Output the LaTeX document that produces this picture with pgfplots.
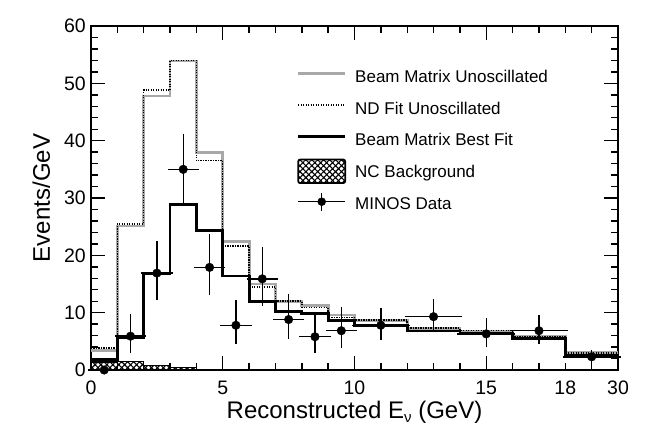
\documentclass[border=0pt]{standalone}
\usepackage{fontspec}
\setmainfont{Liberation Sans}
\usepackage{pgfplots}
\usepackage{pgfplotstable}
\pgfplotsset{compat=1.18}
\usetikzlibrary{patterns.meta}
\definecolor{unosc}{RGB}{168,168,168}
% fixed-size box for legend images, drawn parts may stick out of it
\newcommand{\legbox}{\pgfpathrectangle{\pgfpointorigin}{\pgfpoint{47bp}{8bp}}\pgfusepath{use as bounding box}}

% x in display units: 0-18 GeV linear, the 18-30 GeV bin squeezed into 18-20
\pgfplotstableread{
x   gray  nd    fit   nc
0   3.4   3.8   1.9   1.4
1   25.1  25.5  5.6   1.5
2   47.8  48.8  16.8  0.8
3   53.9  54.0  28.9  0.4
4   37.9  36.5  24.4  0.15
5   22.4  21.6  16.4  0.1
6   15.0  14.5  12.0  0.1
7   12.0  12.0  10.2  0.05
8   11.2  10.9  9.9   0.05
9   9.6   9.2   8.6   0.05
10  8.7   8.7   7.8   0.05
12  7.3   7.3   6.8   0.05
14  6.7   6.9   6.3   0.05
16  5.9   5.8   5.5   0.05
18  3.1   3.0   2.6   0.05
20  3.1   3.0   2.6   0.05
}\histos

\pgfplotstableread{
x    y     ex   ep    em
0.5  0.0   0.5  0     0
1.5  5.9   0.5  3.5   2.5
2.5  16.9  0.5  5.2   4.2
3.5  35.0  0.5  5.8   6.0
4.5  17.9  0.5  5.3   4.4
5.5  7.8   0.5  3.9   2.9
6.5  15.9  0.5  5.1   4.3
7.5  8.8   0.5  4.1   3.0
8.5  5.8   0.5  3.6   2.4
9.5  6.85  0.5  3.75  2.65
11   7.8   1    2.5   2.1
13   9.3   1    2.6   2.3
15   6.3   1    2.3   1.9
17   6.85  1    2.35  1.85
19   2.3   1    0.8   0.6
}\minos

\begin{document}
\begin{tikzpicture}
\begin{axis}[
  name=ax,
  scale only axis,
  width=527bp, height=344bp,
  xmin=0, xmax=20, ymin=0, ymax=60,
  clip=false,
  axis line style={line width=2bp},
  tick align=inside,
  tick style={black, line width=1.4bp},
  major tick length=14bp, minor tick length=7bp,
  xtick={0,5,10,15},
  minor xtick={1,...,19},
  extra x ticks={18,20},
  extra x tick labels={18,30},
  extra x tick style={major tick length=7bp},
  ytick={0,10,...,60},
  minor y tick num=4,
  /pgf/number format/assume math mode=true,
  ticklabel style={font=\fontsize{19.5bp}{23bp}\selectfont},
  xticklabel style={inner sep=0pt, yshift=-11bp},
  yticklabel style={inner sep=0pt, xshift=-5bp},
  label style={font=\fontsize{24bp}{28bp}\selectfont},
  xlabel={Reconstructed E\raisebox{-0.35ex}{\fontsize{15bp}{15bp}\selectfont ν} (GeV)},
  xlabel style={at={(axis description cs:0.5,-0.1410)}, anchor=base},
  ylabel={Events/GeV},
  ylabel style={at={(axis description cs:-0.0778,0.5)}, anchor=base},
  legend cell align=left,
  legend style={at={(axis description cs:0.3928,0.872)}, anchor=north west,
    draw=none, fill=none, inner sep=0pt, row sep=15.5bp, column sep=10bp,
    font=\fontsize{17bp}{20bp}\selectfont,
    nodes={inner sep=0pt, text height=12.5bp, text depth=3.6bp}},
]
\addplot[const plot mark left, draw=black, line width=1.2bp,
  pattern={Hatch[angle=45, distance=4.2bp, line width=1.1bp]}, forget plot]
  table[x=x, y=nc]{\histos} \closedcycle;
\addplot[const plot mark left, unosc, line width=2.8bp, forget plot]
  table[x=x, y=gray]{\histos};
\addplot[const plot mark left, black, line width=1.5bp, dash pattern=on 1.2bp off 1.3bp, forget plot]
  table[x=x, y=nd]{\histos};
\addplot[const plot mark left, black, line width=2.8bp, forget plot]
  table[x=x, y=fit]{\histos};
\addplot[only marks, mark=*, mark size=4.3bp, black, forget plot,
  error bars/.cd, x dir=both, x explicit, y dir=both, y explicit,
  error bar style={line width=1.4bp},
  error mark=-, error mark options={mark size=2.5bp, line width=1.4bp}]
  table[x=x, y=y, x error=ex, y error plus=ep, y error minus=em]{\minos};

\addlegendimage{legend image code/.code={\legbox \draw[overlay, unosc, line width=2.7bp] (0bp,4.7bp) -- (47bp,4.7bp);}}
\addlegendentry{Beam Matrix Unoscillated}
\addlegendimage{legend image code/.code={\legbox \draw[overlay, black, line width=1.5bp, dash pattern=on 1.2bp off 1.3bp] (0bp,4.7bp) -- (47bp,4.7bp);}}
\addlegendentry{ND Fit Unoscillated}
\addlegendimage{legend image code/.code={\legbox \draw[overlay, black, line width=2.7bp] (0bp,4.7bp) -- (47bp,4.7bp);}}
\addlegendentry{Beam Matrix Best Fit}
\addlegendimage{legend image code/.code={\legbox \draw[overlay, black, line width=1.8bp, rounded corners=2bp, pattern={Hatch[angle=45, distance=4.2bp, line width=1.1bp]}] (0bp,-10bp) rectangle (47bp,13.5bp);}}
\addlegendentry{NC Background}
\addlegendimage{legend image code/.code={\legbox \draw[overlay, black, line width=1.4bp] (0bp,3bp) -- (47bp,3bp); \draw[overlay, black, line width=1.4bp] (23.5bp,-6bp) -- (23.5bp,12bp); \fill[overlay, black] (23.5bp,3bp) circle (4bp);}}
\addlegendentry{MINOS Data}
\end{axis}
\pgfresetboundingbox
\path (ax.south west) ++(-91bp,-66bp) rectangle ++(663bp,436bp);
\end{tikzpicture}
\end{document}
